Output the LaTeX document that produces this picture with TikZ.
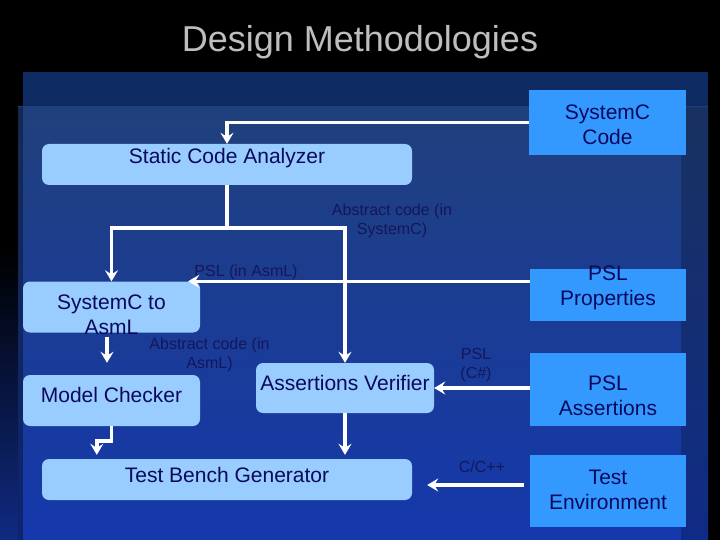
\documentclass[tikz,border=0pt]{standalone}
\usepackage{fontspec}
\setmainfont{Liberation Sans}
\usepackage{tikz}
\usetikzlibrary{arrows.meta, positioning, calc}
\definecolor{navytext}{HTML}{0A0A5C}
\definecolor{lightbox}{HTML}{99CCFF}
\definecolor{brightbox}{HTML}{3399FF}
\definecolor{labeltext}{HTML}{16165A}
\definecolor{titlegrey}{HTML}{BEBEBE}
\definecolor{panelnavy}{HTML}{0D2A62}
\definecolor{paneltop}{HTML}{20407C}
\definecolor{panelmid}{HTML}{4E6484}
\definecolor{panelbottom}{HTML}{1538AC}

\begin{document}
\begin{tikzpicture}[x=1pt, y=-1pt,
  toolbox/.style={rectangle, rounded corners=7pt, fill=lightbox, inner sep=0pt},
  inputbox/.style={rectangle, fill=brightbox, inner sep=0pt},
  boxtext/.style={text=navytext, font=\fontsize{21}{25}\selectfont, align=center},
  flow/.style={white, line width=3.5pt, -{Stealth[length=11pt, width=13pt, inset=4pt]}},
  flowlabel/.style={text=labeltext, font=\fontsize{16}{19}\selectfont, align=center}]
\useasboundingbox (0,0) rectangle (720,540);

% Slide background
\fill[black] (0,0) rectangle (720,540);
\shade[top color=black, bottom color=panelbottom!75!black] (0,250) rectangle (18,540);
\fill[panelnavy] (23,72) rectangle (708,107);
\shade[top color=paneltop, middle color=panelmid, bottom color=panelbottom] (18,107) rectangle (708,540);
\fill[black, opacity=0.35] (18,107) rectangle (23,540);
\fill[black, opacity=0.22] (681,107) rectangle (708,540);

% Title
\node[text=titlegrey, font=\fontsize{36}{40}\selectfont] (title) at (360,42) {Design Methodologies};

% Inputs on the right
\node[inputbox, minimum width=157pt, minimum height=65pt, label={[boxtext, yshift=-2pt]center:SystemC\\Code}] (sccode) at (607.5,122.5) {};
\node[inputbox, minimum width=156pt, minimum height=52pt, label={[boxtext, yshift=7.5pt]center:PSL\\Properties}] (pslprop) at (608,295) {};
\node[inputbox, minimum width=156pt, minimum height=73pt, label={[boxtext, yshift=-6.5pt]center:PSL\\Assertions}] (pslassert) at (608,389.5) {};
\node[inputbox, minimum width=156pt, minimum height=72pt, label={[boxtext, yshift=1.5pt]center:Test\\Environment}] (testenv) at (608,491) {};

% Tools
\node[toolbox, minimum width=370pt, minimum height=41pt, label={[boxtext, yshift=6.5pt]center:Static Code Analyzer}] (sca) at (227,164.5) {};
\node[toolbox, minimum width=177pt, minimum height=51pt, label={[boxtext, yshift=-7.5pt]center:SystemC to\\AsmL}] (s2a) at (111.5,307) {};
\node[toolbox, minimum width=177pt, minimum height=51pt, label={[boxtext, yshift=5.5pt]center:Model Checker}] (mc) at (111.5,400.5) {};
\node[toolbox, minimum width=178pt, minimum height=50pt, label={[boxtext, yshift=5pt]center:Assertions Verifier}] (av) at (345,388) {};
\node[toolbox, minimum width=370pt, minimum height=41pt, label={[boxtext, yshift=4.5pt]center:Test Bench Generator}] (tbg) at (227,479.5) {};

% Flow labels
\node[flowlabel] (abssc) at (392,220.5) {Abstract code (in\\SystemC)};
\node[flowlabel] (pslasml) at (246,272) {PSL (in AsmL)};
\node[flowlabel] (absasml) at (209.5,354.5) {Abstract code (in\\AsmL)};
\node[flowlabel] (pslcs) at (476,365.5) {PSL\\(C\#)};
\node[flowlabel] (cpp) at (482,467) {C/C++};

% Connectors
\coordinate (split) at (227,228);
\coordinate (pslin) at ($(s2a.north east)+(-12,0)$);
\coordinate (tein) at ($(tbg.east)+(15,5.5)$);
\draw[flow] (sccode.west) -| (sca.north);
\draw[flow] (sca.south) -- (split) -| (s2a.north);
\draw[flow] (split) -| (av.north);
\draw[flow] (pslprop.west |- pslin) -- (pslin);
\draw[flow] (pslassert.west |- av.east) -- (av.east);
\draw[flow, shorten <=6pt] (testenv.west |- tein) -- (tein);
\draw[flow, shorten <=4pt, shorten >=12pt] ($(s2a.south)+(-4.5,0)$) -- ($(mc.north)+(-4.5,0)$);
\draw[flow, shorten >=4pt] (mc.south) -- ++(0,15) -| ($(tbg.north west)+(55,0)$);
\draw[flow, shorten >=4pt] (av.south) -- (av.south |- tbg.north);

\end{tikzpicture}
\end{document}
